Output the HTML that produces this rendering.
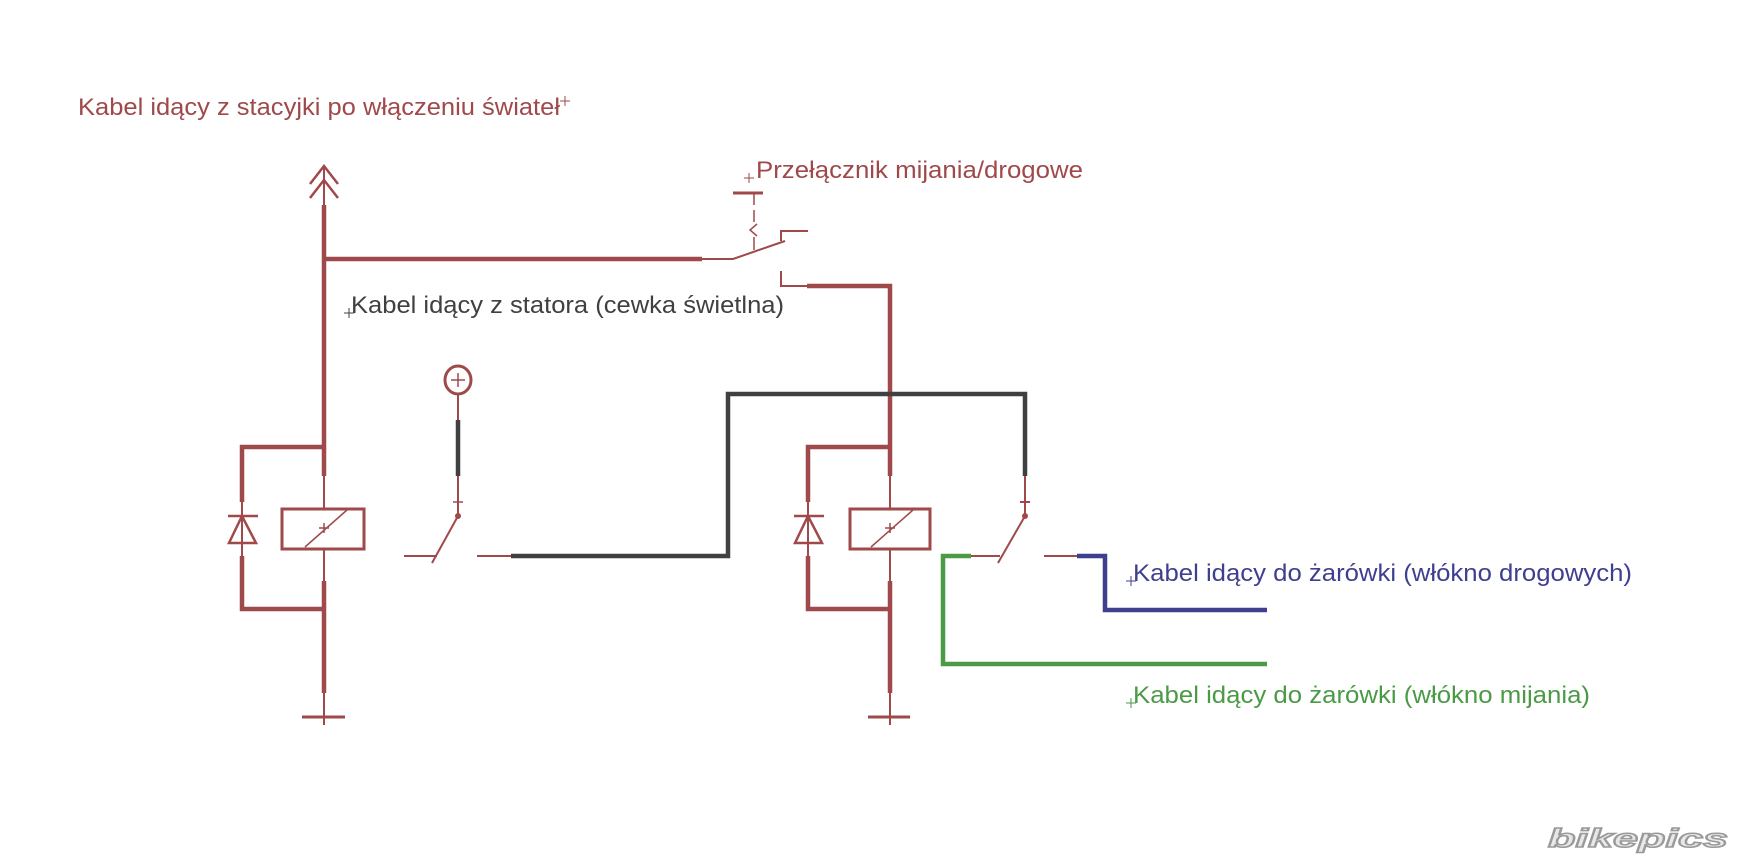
<!DOCTYPE html>
<html><head><meta charset="utf-8"><style>
html,body{margin:0;padding:0;background:#fff;}
svg{display:block;}
</style></head><body>
<svg width="1756" height="864" viewBox="0 0 1756 864" xmlns="http://www.w3.org/2000/svg">
<g font-family="Liberation Sans, sans-serif" font-size="24">
<text x="78" y="115" fill="#a0494b" textLength="482" lengthAdjust="spacingAndGlyphs">Kabel idący z stacyjki po włączeniu świateł</text>
<text x="756" y="178" fill="#a0494b" textLength="327" lengthAdjust="spacingAndGlyphs">Przełącznik mijania/drogowe</text>
<text x="351" y="313" fill="#404040" textLength="433" lengthAdjust="spacingAndGlyphs">Kabel idący z statora (cewka świetlna)</text>
<text x="1133" y="581" fill="#3f3f90" textLength="499" lengthAdjust="spacingAndGlyphs">Kabel idący do żarówki (włókno drogowych)</text>
<text x="1133" y="703" fill="#4a9a46" textLength="457" lengthAdjust="spacingAndGlyphs">Kabel idący do żarówki (włókno mijania)</text>
</g>
<g stroke-width="1" fill="none">
<path d="M560 101h10M565 96v10" stroke="#a0494b"/>
<path d="M744 178h10M749 173v10" stroke="#a0494b"/>
<path d="M344 313h10M349 308v10" stroke="#404040"/>
<path d="M1126 581h10M1131 576v10" stroke="#3f3f90"/>
<path d="M1126 703h10M1131 698v10" stroke="#4a9a46"/>
</g>
<g stroke="#a0494b" fill="none" stroke-linecap="butt">
<path d="M310 184L324 166L338 184M310 198L324 180L338 198" stroke-width="2.5"/>
<path d="M324 205V476M324 581V693" stroke-width="4.5"/>
<path d="M324 166V205M324 476V508M324 549V581M324 693V725" stroke-width="2"/>
<path d="M302 717H345" stroke-width="3"/>
<rect x="282" y="509" width="82" height="40" stroke-width="3"/>
<path d="M305 547L347 510M319 528h10M324 523v10" stroke-width="1.5"/>
<path d="M324 447H242V502M242 556V609H324" stroke-width="4.5"/>
<path d="M242 502V556" stroke-width="2"/>
<path d="M228 516H258M242 516L229 543H256Z" stroke-width="2.5"/>
<path d="M324 259H702" stroke-width="4.5"/>
<path d="M702 259H733L785 241" stroke-width="2"/>
<path d="M781 241V231H808" stroke-width="2"/>
<path d="M733 193H763" stroke-width="3"/>
<path d="M754 193V205M754 210V222M754 237V250" stroke-width="1.5"/>
<path d="M757 224L750 230L757 236" stroke-width="1.5"/>
<path d="M781 271V286H807" stroke-width="2"/>
<path d="M807 286H890V476M890 581V693" stroke-width="4.5"/>
<path d="M890 476V508M890 549V581M890 693V725" stroke-width="2"/>
<path d="M868 717H910" stroke-width="3"/>
<rect x="850" y="509" width="80" height="40" stroke-width="3"/>
<path d="M871 547L913 510M885 528h10M890 523v10" stroke-width="1.5"/>
<path d="M890 447H808V502M808 556V609H890" stroke-width="4.5"/>
<path d="M808 502V556" stroke-width="2"/>
<path d="M794 516H824M808 516L795 543H822Z" stroke-width="2.5"/>
<ellipse cx="458" cy="380" rx="13" ry="14" stroke-width="3"/>
<path d="M451 380h14M458 373v14" stroke-width="1.5"/>
<path d="M458 394V420M458 476V516" stroke-width="2"/>
<path d="M453 502h10" stroke-width="1.5"/>
<path d="M458 516L432 563M404 556H437M477 556H511" stroke-width="2"/>
<circle cx="458" cy="516" r="2.5" fill="#a0494b"/>
<path d="M1025 476V516M1020 502h10" stroke-width="2"/>
<path d="M1025 516L998 563M971 556H1000M1044 556H1077" stroke-width="2"/>
<circle cx="1025" cy="516" r="2.5" fill="#a0494b"/>
</g>
<g stroke="#404040" fill="none" stroke-width="4.5">
<path d="M458 420V476"/>
<path d="M511 556H728V394H1025V476"/>
</g>
<path d="M1077 556H1105V610H1267" stroke="#3f3f90" stroke-width="4.5" fill="none"/>
<path d="M971 556H943V664H1267" stroke="#4a9a46" stroke-width="4.5" fill="none"/>
<text x="1548" y="847" font-family="Liberation Sans, sans-serif" font-size="26" font-weight="bold" font-style="italic" fill="#e8e8e8" stroke="#9a9a9a" stroke-width="1.5" textLength="180" lengthAdjust="spacingAndGlyphs">bikepics</text>
</svg>
</body></html>
